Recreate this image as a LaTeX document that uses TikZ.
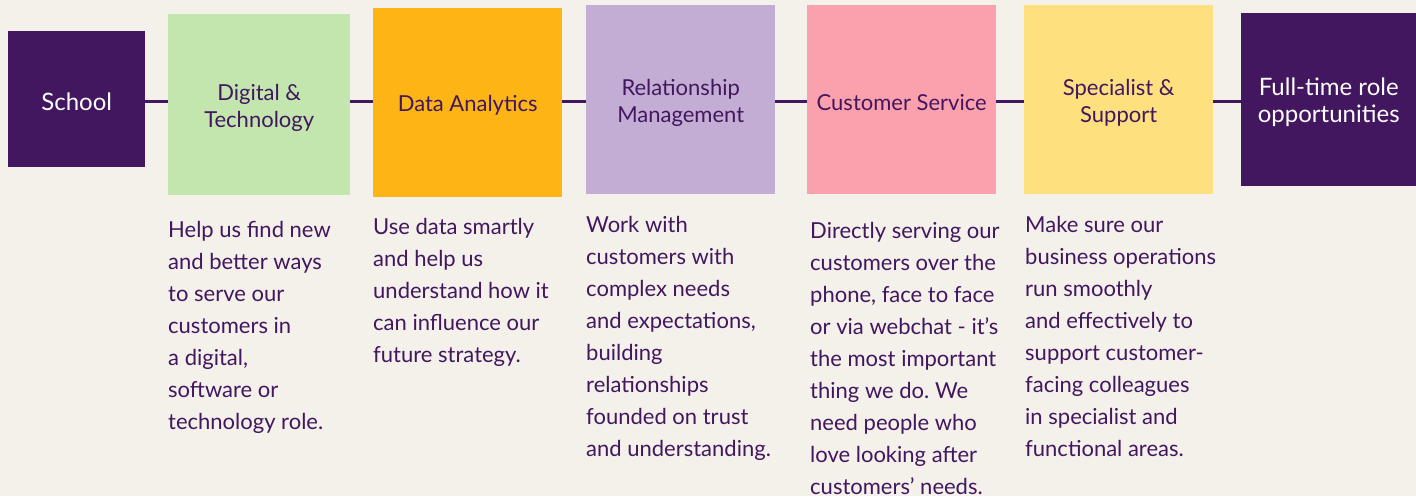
\documentclass[tikz,border=0pt]{standalone}
\usepackage{fontspec}
\setmainfont{Lato}
\frenchspacing
\definecolor{paper}{HTML}{F4F0EA}
\definecolor{ink}{HTML}{42175F}
\definecolor{leaf}{HTML}{C2E6AD}
\definecolor{amber}{HTML}{FDB515}
\definecolor{lilac}{HTML}{C4ADD5}
\definecolor{blush}{HTML}{FBA0AD}
\definecolor{butter}{HTML}{FEE17E}
\tikzset{
  rolebox/.style={anchor=north west, inner sep=0pt},
  rolelabel/.style={inner sep=0pt, align=center, text=ink, yshift=-3pt,
    font=\fontsize{22}{27}\selectfont},
  endlabel/.style={rolelabel, text=white, font=\fontsize{24}{27}\selectfont},
  % base = baseline of the last line
  roletext/.style={anchor=base west, inner sep=0pt, align=left, text=ink,
    font=\fontsize{22}{32}\selectfont},
  link/.style={draw=ink, line width=3pt},
}

\begin{document}
\begin{tikzpicture}[x=1pt, y=-1pt] % {{{
\fill[paper] (0,0) rectangle (1416,496);
\useasboundingbox (0,0) rectangle (1416,496);
\coordinate (axis) at (0,101);
% Cajas {{{
\node[rolebox, fill=ink, minimum width=137pt, minimum height=136pt] (school) at (8,31) {};
\node[rolebox, fill=leaf, minimum width=182pt, minimum height=181pt] (digital) at (168,14) {};
\node[rolebox, fill=amber, minimum width=189pt, minimum height=189pt] (data) at (373,8) {};
\node[rolebox, fill=lilac, minimum width=189pt, minimum height=189pt] (relation) at (586,5) {};
\node[rolebox, fill=blush, minimum width=189pt, minimum height=189pt] (service) at (807,5) {};
\node[rolebox, fill=butter, minimum width=189pt, minimum height=189pt] (support) at (1024,5) {};
\node[rolebox, fill=ink, minimum width=175pt, minimum height=173pt] (fulltime) at (1241,13) {};
% }}}
% Titulos {{{
\node[endlabel] (schoollabel) at (school) {School};
\node[rolelabel] (digitallabel) at (digital) {Digital \&\\Technology};
\node[rolelabel] (datalabel) at (data) {Data Analytics};
\node[rolelabel] (relationlabel) at (relation) {Relationship\\Management};
\node[rolelabel] (servicelabel) at (service) {Customer Service};
\node[rolelabel] (supportlabel) at (support) {Specialist \&\\Support};
\node[endlabel] (fulltimelabel) at (fulltime) {Full-time role\\opportunities};
% }}}
% Lineas {{{
\foreach \a/\b in {school/digital, digital/data, data/relation, relation/service, service/support, support/fulltime} {
  \draw[link] (\a.east |- axis) -- (\b.west |- axis);
}
% }}}
% Textos {{{
\node[roletext] (digitaltext) at (168,429) {Help us find new\\and better ways\\to serve our\\customers in\\a digital,\\software or\\technology role.};
\node[roletext] (datatext) at (373,362) {Use data smartly\\and help us\\understand how it\\can influence our\\future strategy.};
\node[roletext] (relationtext) at (586,456) {Work with\\customers with\\complex needs\\and expectations,\\building\\relationships\\founded on trust\\and understanding.};
\node[roletext] (servicetext) at (810,494) {Directly serving our\\customers over the\\phone, face to face\\or via webchat - it’s\\the most important\\thing we do. We\\need people who\\love looking after\\customers’ needs.};
\node[roletext] (supporttext) at (1025,456) {Make sure our\\business operations\\run smoothly\\and effectively to\\support customer-\\facing colleagues\\in specialist and\\functional areas.};
% }}}
\end{tikzpicture} % }}}
\end{document}
